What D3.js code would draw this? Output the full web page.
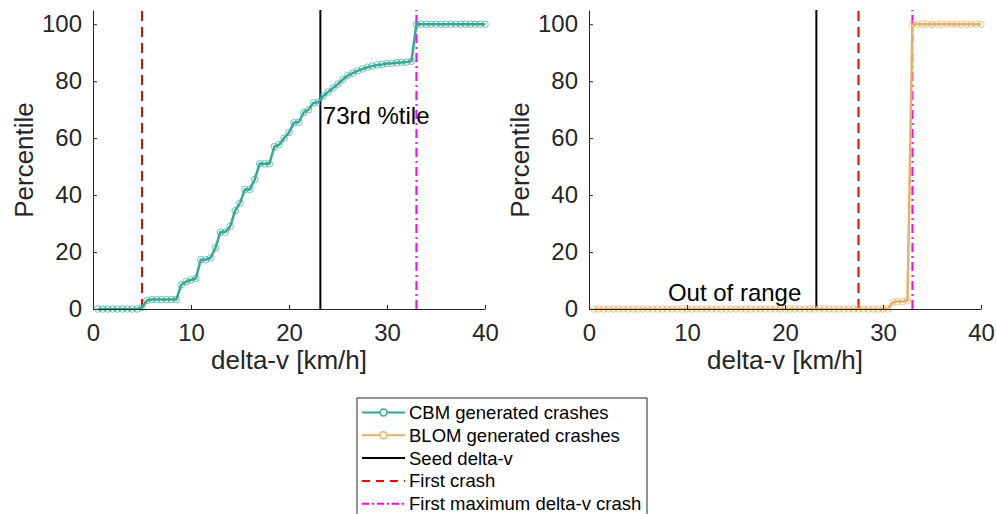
<!DOCTYPE html>
<html lang="en">
<head>
  <meta charset="UTF-8">
  <title>Percentile vs delta-v</title>
  <script src="https://d3js.org/d3.v7.min.js"></script>
  <style type="text/css">
    body { margin: 0; background: #fff; }
    svg { font-family: "Liberation Sans", Arial, sans-serif; }
    .axis path, .axis line { stroke: #262626; stroke-width: 1; }
    .axis text { fill: #262626; font-size: 24px; }
    .cbm { fill: none; stroke: #33a896; stroke-width: 2.5; }
    .blom { fill: none; stroke: #e3b267; stroke-width: 2.5; }
  </style>
</head>
<body>
<script>

  // x positions of the samples (km/h)
  var deltaV = d3.range(1, 81).map(function(i) { return i / 2; });

  // CBM generated crashes, percentile at each delta-v
  var cbmPct = [0, 0, 0, 0, 0, 0, 0, 0, 0, 0.5,
    3, 3.3, 3.3, 3.3, 3.3, 3.3, 3.3, 8.5, 9.6, 10.2,
    10.8, 17.3, 17.3, 18, 21.5, 27, 27, 29, 34.5, 37.2,
    42, 42, 45.5, 51, 51, 51, 57, 57.7, 60, 62,
    65.4, 65.6, 69, 70, 72.4, 72.6, 74.8, 76.2, 77.6, 79,
    80.6, 82, 82.8, 83.6, 84.3, 84.9, 85.3, 85.7, 85.9, 86.2,
    86.3, 86.5, 86.6, 86.7, 87, 100, 100, 100, 100, 100,
    100, 100, 100, 100, 100, 100, 100, 100, 100, 100];

  // BLOM generated crashes
  var blomPct = [0, 0, 0, 0, 0, 0, 0, 0, 0, 0,
    0, 0, 0, 0, 0, 0, 0, 0, 0, 0,
    0, 0, 0, 0, 0, 0, 0, 0, 0, 0,
    0, 0, 0, 0, 0, 0, 0, 0, 0, 0,
    0, 0, 0, 0, 0, 0, 0, 0, 0, 0,
    0, 0, 0, 0, 0, 0, 0, 0, 0, 0,
    0, 2.4, 2.6, 2.6, 3, 100, 100, 100, 100, 100,
    100, 100, 100, 100, 100, 100, 100, 100, 100, 100];

  // reference lines: [seed, first crash, first max crash]
  var leftLines = [23.2, 5, 33];
  var rightLines = [23.2, 27.5, 33];

  var xTicks = [0, 10, 20, 30, 40];
  var yTicks = [0, 20, 40, 60, 80, 100];

  var legendLabels = ["CBM generated crashes", "BLOM generated crashes", "Seed delta-v",
    "First crash", "First maximum delta-v crash"];

  var colCBM = "#33a896", colBLOM = "#e3b267";

  var W = 996, H = 514;
  var svg = d3.select("body").append("svg")
    .attr("width", W)
    .attr("height", H);

  var lineStyles = [
    {color: "#000", dash: null},
    {color: "#ff0000", dash: "10,6"},
    {color: "#ff00ff", dash: "9,4,2,4"}
  ];

  function panel(left, values, color, cls, vlines, note) {
    var xScale = d3.scaleLinear().domain([0, 40]).range([left, left + 392]);
    var yScale = d3.scaleLinear().domain([0, 105]).range([309, 10]);

    var g = svg.append("g");

    // vertical reference lines
    vlines.forEach(function(v, i) {
      g.append("line")
        .attr("x1", xScale(v)).attr("x2", xScale(v))
        .attr("y1", yScale(0)).attr("y2", yScale(105))
        .attr("stroke", lineStyles[i].color)
        .attr("stroke-width", 2)
        .attr("stroke-dasharray", lineStyles[i].dash);
    });

    var data = deltaV.map(function(d, i) { return {x: d, y: values[i]}; });

    var line = d3.line()
      .x(function(d) { return xScale(d.x); })
      .y(function(d) { return yScale(d.y); });

    g.append("path")
      .datum(data)
      .attr("class", cls)
      .attr("d", line);

    g.selectAll(".dot")
      .data(data)
      .enter().append("circle")
      .attr("cx", function(d) { return xScale(d.x); })
      .attr("cy", function(d) { return yScale(d.y); })
      .attr("r", 3.3)
      .attr("fill", "none")
      .attr("stroke", color)
      .attr("stroke-opacity", 0.7)
      .attr("stroke-width", 1);

    // axes
    g.append("g")
      .attr("class", "axis")
      .attr("transform", "translate(0," + yScale(0) + ")")
      .call(d3.axisBottom(xScale).tickValues(xTicks).tickSizeInner(-4).tickSizeOuter(0).tickPadding(15));

    g.append("g")
      .attr("class", "axis")
      .attr("transform", "translate(" + left + ",0)")
      .call(d3.axisLeft(yScale).tickValues(yTicks).tickSizeInner(-4).tickSizeOuter(0).tickPadding(11));

    g.append("text")
      .attr("transform", "translate(" + (left - 60) + "," + 160 + ") rotate(-90)")
      .attr("text-anchor", "middle")
      .attr("font-size", "26px")
      .attr("fill", "#262626")
      .text("Percentile");

    g.append("text")
      .attr("x", left + 196)
      .attr("y", 369)
      .attr("text-anchor", "middle")
      .attr("font-size", "26px")
      .attr("fill", "#262626")
      .text("delta-v [km/h]");

    g.append("text")
      .attr("x", xScale(note.x))
      .attr("y", note.y)
      .attr("font-size", "24px")
      .attr("fill", "#000")
      .text(note.text);
  }

  panel(93, cbmPct, colCBM, "cbm", leftLines, {x: 23.45, y: 124, text: "73rd %tile"});
  panel(589, blomPct, colBLOM, "blom", rightLines, {x: 8.05, y: 301, text: "Out of range"});

  // legend
  var legend = svg.append("g").attr("transform", "translate(357,398)");
  legend.append("rect")
    .attr("x", 0).attr("y", 0)
    .attr("width", 290).attr("height", 120)
    .attr("fill", "#fff")
    .attr("stroke", "#262626")
    .attr("stroke-width", 1);

  var legendStyles = [
    {color: colCBM, dash: null, marker: true},
    {color: colBLOM, dash: null, marker: true},
    {color: "#000", dash: null, marker: false},
    {color: "#ff0000", dash: "8,6", marker: false},
    {color: "#ff00ff", dash: "7,3,2,3", marker: false}
  ];

  legendLabels.forEach(function(lab, i) {
    var yy = 14.5 + i * 22.8;
    var s = legendStyles[i];
    legend.append("line")
      .attr("x1", 5).attr("x2", 48)
      .attr("y1", yy).attr("y2", yy)
      .attr("stroke", s.color)
      .attr("stroke-width", 2)
      .attr("stroke-dasharray", s.dash);
    if (s.marker) {
      legend.append("circle")
        .attr("cx", 26.5).attr("cy", yy).attr("r", 3.5)
        .attr("fill", "#fff")
        .attr("stroke", s.color)
        .attr("stroke-width", 1.5);
    }
    legend.append("text")
      .attr("x", 52)
      .attr("y", yy + 6.5)
      .attr("font-size", "18.5px")
      .attr("fill", "#000")
      .text(lab);
  });

</script>
</body>
</html>
